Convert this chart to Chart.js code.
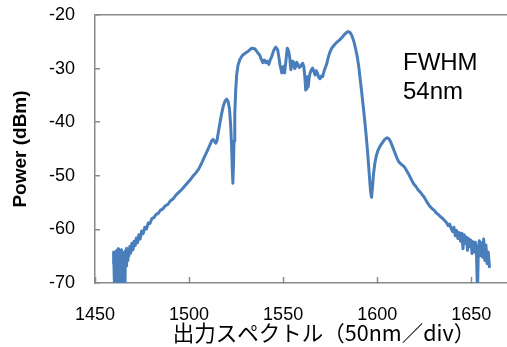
<!DOCTYPE html>
<html>
<head>
<meta charset="utf-8">
<script src="https://cdn.jsdelivr.net/npm/chart.js@4"></script>
<style>
  html, body { margin: 0; padding: 0; background: #fff; }
</style>
</head>
<body>
<canvas id="spectrum" width="507" height="347"></canvas>
<script>
// Output spectrum (nm, dBm)
const wavelength = [
  1459.6, 1459.9, 1460.2, 1460.5, 1460.8, 1461.1, 1461.4, 1461.7, 1462.0, 1462.3,
  1462.6, 1462.9, 1463.2, 1463.5, 1463.8, 1464.1, 1464.4, 1464.7, 1465.0, 1465.3,
  1465.6, 1465.9, 1466.2, 1466.5, 1466.8, 1467.1, 1467.5, 1468.0, 1468.5, 1469.0,
  1469.6, 1470.2, 1470.8, 1471.4, 1472.0, 1472.6, 1473.3, 1474.0, 1474.8, 1475.6,
  1476.5, 1477.4, 1478.3, 1479.2, 1480.2, 1481.3, 1482.5, 1483.6, 1484.8, 1486.0,
  1487.3, 1488.6, 1490.0, 1491.5, 1493.0, 1494.5, 1496.0, 1497.5, 1499.0, 1500.5,
  1502.0, 1503.5, 1505.0, 1506.5, 1508.0, 1509.5, 1511.0, 1512.0, 1512.7, 1513.5,
  1514.2, 1514.8, 1515.5, 1516.3, 1517.2, 1518.2, 1519.2, 1520.0, 1520.8, 1521.5,
  1522.1, 1522.6, 1523.0, 1523.3, 1523.6, 1523.9, 1524.3, 1524.8, 1525.3, 1526.0,
  1527.0, 1528.4, 1530.0, 1531.6, 1533.3, 1534.9, 1535.8, 1536.6, 1537.6, 1538.4,
  1539.2, 1540.0, 1540.8, 1541.5, 1542.4, 1543.2, 1543.9, 1545.0, 1546.1, 1547.1,
  1547.8, 1548.3, 1548.8, 1549.3, 1549.8, 1550.3, 1550.8, 1551.5, 1552.2, 1552.8,
  1553.5, 1554.1, 1554.6, 1555.1, 1555.6, 1556.2, 1556.7, 1557.2, 1557.7, 1558.5,
  1559.3, 1559.9, 1560.4, 1561.0, 1561.6, 1562.0, 1562.3, 1562.6, 1562.9, 1563.3,
  1563.8, 1564.3, 1565.0, 1565.7, 1566.4, 1567.0, 1567.6, 1568.2, 1568.9, 1569.6,
  1570.3, 1571.0, 1572.0, 1573.1, 1574.0, 1574.9, 1576.0, 1577.4, 1578.8, 1580.2,
  1581.5, 1582.7, 1583.6, 1584.5, 1585.4, 1586.2, 1587.0, 1587.8, 1588.6, 1589.4,
  1590.2, 1590.9, 1591.7, 1592.5, 1593.3, 1594.1, 1594.9, 1595.7, 1596.4, 1597.0,
  1597.5, 1598.0, 1598.7, 1599.5, 1600.5, 1601.6, 1602.8, 1604.0, 1605.2, 1606.2,
  1607.2, 1608.2, 1609.3, 1610.4, 1611.5, 1612.6, 1613.7, 1614.6, 1615.6, 1616.6,
  1617.6, 1618.6, 1619.6, 1620.6, 1621.7, 1622.8, 1623.9, 1625.0, 1626.0, 1627.0,
  1628.0, 1629.1, 1630.2, 1631.3, 1632.4, 1633.5, 1634.6, 1635.7, 1636.8, 1637.7,
  1638.5, 1639.3, 1640.1, 1640.8, 1641.5, 1642.2, 1642.9, 1643.6, 1644.3, 1645.0,
  1645.6, 1646.2, 1646.8, 1647.4, 1648.0, 1648.6, 1649.2, 1649.8, 1650.4, 1651.0,
  1651.6, 1652.2, 1652.8, 1653.3, 1653.8, 1654.3, 1654.9, 1655.5, 1656.1, 1656.6,
  1657.2, 1657.8, 1658.4, 1659.0, 1659.7
];
const power = [
  -66.5, -64.2, -68.5, -72.0, -65.4, -70.5, -64.0, -72.0, -66.2, -63.6,
  -69.5, -65.0, -72.0, -64.6, -67.5, -63.8, -72.0, -66.0, -64.3, -70.2,
  -65.2, -72.0, -64.0, -66.8, -63.5, -65.8, -64.2, -65.0, -63.2, -64.4,
  -62.6, -63.8, -62.2, -63.0, -61.6, -62.5, -61.0, -61.8, -60.3, -60.8,
  -59.6, -59.9, -58.8, -58.9, -58.0, -57.8, -57.2, -57.0, -56.4, -56.2,
  -55.6, -55.4, -54.7, -54.3, -53.6, -53.1, -52.6, -52.0, -51.4, -50.8,
  -50.1, -49.5, -48.8, -47.8, -46.6, -45.5, -44.3, -43.5, -43.2, -43.5,
  -43.9, -43.5, -42.0, -40.4, -38.6, -37.0, -36.0, -35.7, -36.2, -37.6,
  -40.5, -44.5, -49.0, -51.4, -48.0, -43.5, -38.5, -34.0, -31.2, -29.4,
  -28.3, -27.5, -27.1, -26.7, -26.2, -26.3, -26.7, -27.1, -27.5, -28.3,
  -28.9, -28.4, -28.9, -28.6, -29.2, -28.3, -27.8, -26.6, -26.0, -26.5,
  -28.0, -29.2, -30.0, -30.8, -29.8, -29.6, -30.8, -28.5, -26.2, -26.6,
  -27.9, -30.2, -29.4, -28.6, -28.9, -30.0, -29.6, -28.8, -29.1, -29.8,
  -29.6, -29.2, -29.0, -29.6, -31.8, -34.0, -32.0, -33.8, -31.5, -33.4,
  -31.8, -30.9, -30.2, -29.9, -30.6, -31.2, -30.4, -30.8, -31.6, -31.9,
  -31.4, -31.5, -30.2, -29.2, -27.9, -26.9, -26.1, -25.5, -25.0, -24.6,
  -24.1, -23.6, -23.3, -23.1, -23.2, -23.6, -24.3, -25.2, -26.4, -27.8,
  -29.6, -31.8, -34.2, -36.8, -39.4, -42.3, -45.6, -49.3, -52.6, -54.0,
  -52.2, -49.8, -47.8, -46.3, -45.2, -44.4, -43.8, -43.2, -42.9, -43.1,
  -43.7, -44.6, -45.6, -46.6, -47.4, -47.8, -48.1, -48.4, -49.0, -49.6,
  -50.3, -51.0, -51.6, -52.0, -52.6, -53.0, -53.5, -54.0, -54.6, -55.2,
  -55.7, -56.1, -56.4, -56.9, -57.2, -57.6, -57.9, -58.3, -58.7, -59.3,
  -59.0, -59.8, -60.4, -59.6, -61.2, -60.2, -61.7, -60.6, -62.2, -60.7,
  -63.6, -61.0, -62.6, -61.4, -63.9, -61.7, -63.2, -62.0, -64.5, -62.3,
  -64.2, -62.4, -64.8, -72.0, -63.4, -62.1, -64.9, -62.5, -65.2, -61.8,
  -65.8, -62.9, -66.4, -64.2, -67.2
];

const xTicks = [1450, 1500, 1550, 1600, 1650];
const yTicks = [-70, -60, -50, -40, -30, -20];
const xTitle = '出力スペクトル（50nm／div）';
const yTitle = 'Power (dBm)';
const note = ['FWHM', '54nm'];

const AXIS_GRAY = '#898989';
const LINE_BLUE = '#4a7ebb';
const FONT = '"Liberation Sans", Arial, sans-serif';

const points = wavelength.map((w, i) => ({ x: w, y: power[i] }));

// x axis title (shifted right like the original) and the FWHM note
const textPlugin = {
  id: 'spectrumText',
  afterDraw(chart) {
    const { ctx, chartArea, scales } = chart;
    ctx.save();
    ctx.fillStyle = '#000';
    ctx.font = '21.5px "Noto Sans CJK JP", sans-serif';
    ctx.textAlign = 'center';
    ctx.textBaseline = 'middle';
    ctx.fillText(xTitle, (chartArea.left + chartArea.right) / 2 + 23, 333);

    ctx.font = '24px ' + FONT;
    ctx.textAlign = 'left';
    ctx.textBaseline = 'alphabetic';
    const nx = scales.x.getPixelForValue(1613.7);
    const ny = scales.y.getPixelForValue(-30.3);
    note.forEach((t, i) => ctx.fillText(t, nx, ny + i * 29));
    ctx.restore();
  }
};

new Chart(document.getElementById('spectrum'), {
  type: 'line',
  data: {
    datasets: [{
      data: points,
      borderColor: LINE_BLUE,
      borderWidth: 3,
      borderJoinStyle: 'round',
      pointRadius: 0,
      tension: 0,
      clip: 0
    }]
  },
  options: {
    responsive: false,
    animation: false,
    layout: { padding: { top: 15, right: 0, bottom: 0, left: 0 } },
    plugins: {
      legend: { display: false },
      tooltip: { enabled: false }
    },
    scales: {
      x: {
        type: 'linear',
        min: 1450,
        max: 1669,
        afterBuildTicks: (scale) => { scale.ticks = xTicks.map(v => ({ value: v })); },
        afterFit: (scale) => {
          scale.height = 64;
          scale.paddingLeft = 0;
          scale.paddingRight = 0;
        },
        border: { color: AXIS_GRAY, width: 1.5 },
        grid: {
          drawOnChartArea: false,
          tickLength: -6,
          tickColor: AXIS_GRAY,
          tickWidth: 1.5
        },
        ticks: {
          padding: 27,
          color: '#000',
          font: { family: FONT, size: 18 },
          callback: (v) => String(v)
        }
      },
      y: {
        min: -70,
        max: -20,
        afterBuildTicks: (scale) => { scale.ticks = yTicks.map(v => ({ value: v })); },
        afterFit: (scale) => {
          scale.width = 95;
          scale.paddingTop = 0;
          scale.paddingBottom = 0;
        },
        border: { color: AXIS_GRAY, width: 1.5 },
        grid: {
          color: (c) => (c.tick && c.tick.value === -20 ? AXIS_GRAY : 'rgba(0,0,0,0)'),
          lineWidth: 1.5,
          tickLength: -5,
          tickColor: AXIS_GRAY,
          tickWidth: 1.5
        },
        ticks: {
          padding: 25,
          color: '#000',
          font: { family: FONT, size: 18 },
          callback: (v) => String(v)
        },
        title: {
          display: true,
          text: yTitle,
          color: '#000',
          padding: { top: 9, bottom: 0 },
          font: { family: FONT, size: 19, weight: 'bold' }
        }
      }
    }
  },
  plugins: [textPlugin]
});
</script>
</body>
</html>
